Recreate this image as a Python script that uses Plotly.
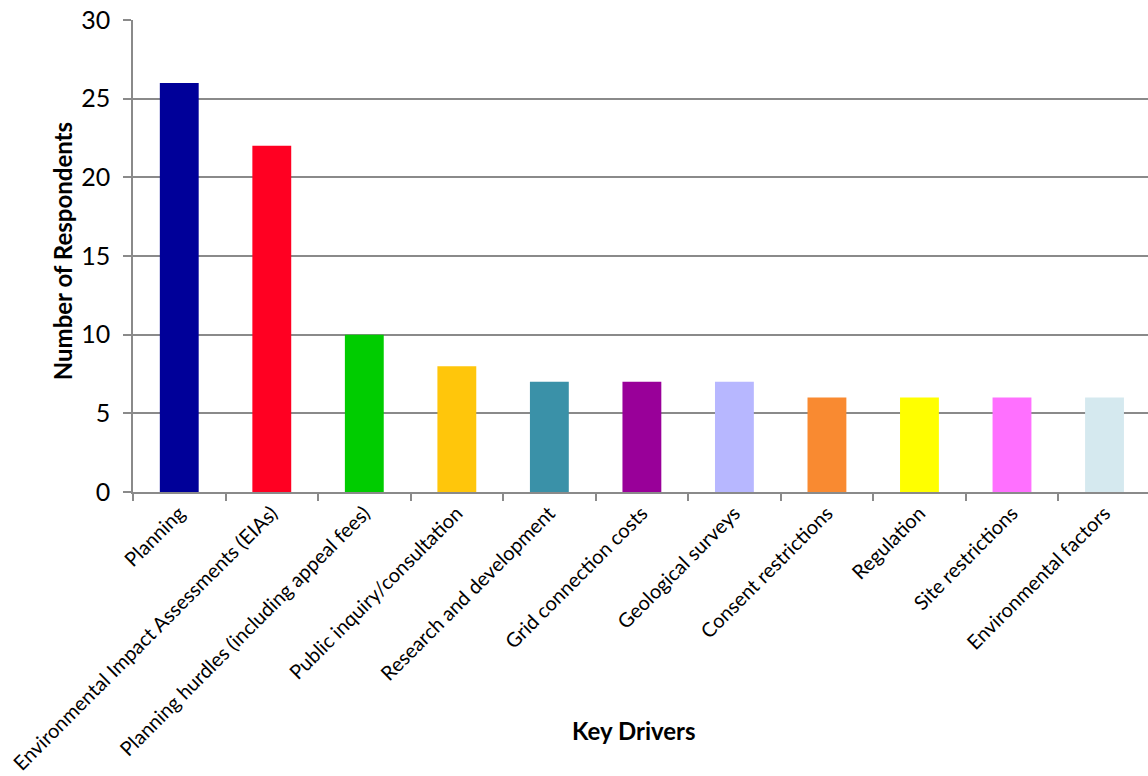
import plotly.graph_objects as go

drivers = [
    "Planning",
    "Environmental Impact Assessments (EIAs)",
    "Planning hurdles (including appeal fees)",
    "Public inquiry/consultation",
    "Research and development",
    "Grid connection costs",
    "Geological surveys",
    "Consent restrictions",
    "Regulation",
    "Site restrictions",
    "Environmental factors",
]
respondents = [26, 22, 10, 8, 7, 7, 7, 6, 6, 6, 6]
bar_colors = [
    "#000099", "#FF0022", "#00CC00", "#FFC60B", "#3A91A8", "#990099",
    "#B7B7FF", "#F98A31", "#FFFF00", "#FF70FF", "#D5E9EF",
]
y_ticks = [0, 5, 10, 15, 20, 25, 30]

FONT = "Lato, 'Open Sans', sans-serif"
GRID = "#8a8a8a"

fig = go.Figure(
    go.Bar(
        x=drivers,
        y=respondents,
        marker=dict(color=bar_colors, line=dict(width=0)),
        showlegend=False,
    )
)

fig.update_layout(
    width=1148,
    height=776,
    margin=dict(l=133, r=0, t=20, b=284),
    paper_bgcolor="white",
    plot_bgcolor="white",
    bargap=0.58,
    font=dict(family=FONT, color="black"),
    xaxis=dict(
        type="category",
        range=[-0.5, len(drivers) - 0.53],
        tickangle=-45,
        tickfont=dict(size=20, family=FONT),
        ticks="outside",
        tickson="boundaries",
        ticklen=7,
        tickcolor=GRID,
        tickwidth=1.5,
        showline=True,
        linecolor=GRID,
        linewidth=1.5,
        showgrid=False,
        fixedrange=True,
    ),
    yaxis=dict(
        range=[0, 30],
        tickvals=y_ticks,
        tickfont=dict(size=25, family=FONT),
        ticks="outside",
        ticklen=8,
        tickcolor=GRID,
        tickwidth=1.5,
        ticklabelstandoff=8,
        showline=True,
        linecolor=GRID,
        linewidth=1.5,
        showgrid=True,
        gridcolor=GRID,
        gridwidth=1.5,
        zeroline=False,
        fixedrange=True,
    ),
    annotations=[
        dict(
            text="<b>Number of Respondents</b>",
            xref="paper", yref="paper",
            x=-0.07, y=0.51,
            xanchor="center", yanchor="middle",
            textangle=-90,
            showarrow=False,
            font=dict(size=24, family=FONT),
        ),
        dict(
            text="<b>Key Drivers</b>",
            xref="paper", yref="paper",
            x=0.494, y=-0.505,
            xanchor="center", yanchor="middle",
            showarrow=False,
            font=dict(size=24, family=FONT),
        ),
    ],
)

fig.write_html("out.html")
